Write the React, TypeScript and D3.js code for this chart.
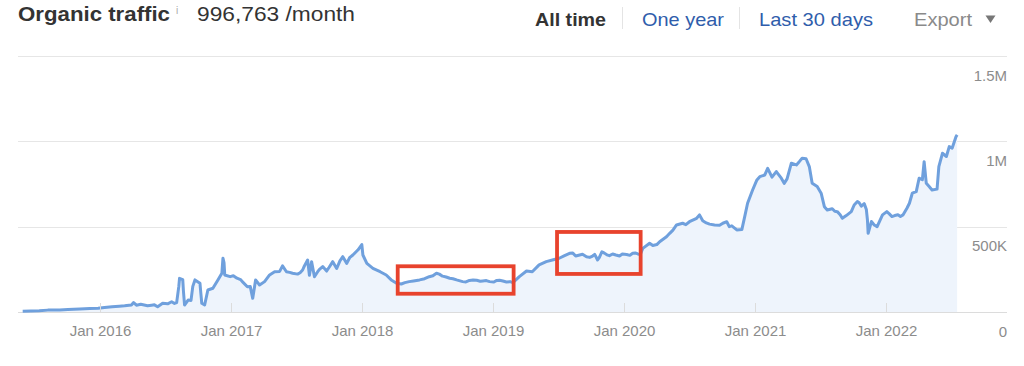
import React from "react";
import * as d3 from "d3";

// ---- Data ----
const dates: string[] = [
  "2015-06-01","2015-07-17","2015-09-12","2015-11-07","2015-12-28","2016-02-05","2016-03-11","2016-03-30",
  "2016-04-05","2016-04-13","2016-05-14","2016-06-02","2016-06-11","2016-06-25","2016-07-09","2016-07-20",
  "2016-07-28","2016-08-03","2016-08-09","2016-08-11","2016-08-20","2016-08-22","2016-08-25","2016-09-04",
  "2016-09-12","2016-09-17","2016-09-23","2016-10-07","2016-10-09","2016-10-12","2016-10-20","2016-10-29",
  "2016-11-12","2016-11-26","2016-12-07","2016-12-10","2016-12-13","2016-12-15","2016-12-30","2017-01-18",
  "2017-02-02","2017-02-16","2017-02-24","2017-03-03","2017-03-11","2017-03-22","2017-04-05","2017-04-19",
  "2017-05-03","2017-05-17","2017-05-25","2017-06-05","2017-06-22","2017-07-06","2017-07-20","2017-07-25",
  "2017-08-03","2017-08-08","2017-08-14","2017-08-22","2017-08-31","2017-09-14","2017-09-25","2017-10-12",
  "2017-10-23","2017-11-09","2017-11-20","2017-12-07","2017-12-21","2018-01-01","2018-01-04","2018-01-15",
  "2018-02-01","2018-02-21","2018-03-10","2018-03-24","2018-04-08","2018-04-21","2018-05-13","2018-06-11",
  "2018-07-08","2018-07-28","2018-08-14","2018-09-03","2018-09-22","2018-10-09","2018-10-28","2018-11-17",
  "2018-12-04","2018-12-23","2019-01-12","2019-01-29","2019-02-18","2019-02-26","2019-03-16","2019-04-05",
  "2019-04-21","2019-05-10","2019-05-30","2019-06-16","2019-07-05","2019-08-03","2019-08-31","2019-09-19",
  "2019-10-06","2019-10-20","2019-11-01","2019-11-15","2019-12-01","2019-12-20","2020-01-09","2020-01-26",
  "2020-02-09","2020-02-23","2020-03-13","2020-04-02","2020-04-10","2020-04-29","2020-05-08","2020-05-27",
  "2020-06-13","2020-07-02","2020-07-22","2020-07-30","2020-08-08","2020-08-27","2020-09-10","2020-09-24",
  "2020-10-14","2020-10-28","2020-11-11","2020-11-25","2020-12-03","2020-12-11","2020-12-25","2021-01-06",
  "2021-01-14","2021-01-28","2021-02-05","2021-02-17","2021-03-01","2021-03-15","2021-03-23","2021-03-31",
  "2021-04-12","2021-04-26","2021-05-04","2021-05-12","2021-05-23","2021-06-01","2021-06-09","2021-06-23",
  "2021-07-04","2021-07-13","2021-07-21","2021-08-04","2021-08-18","2021-09-01","2021-09-12","2021-09-26",
  "2021-10-04","2021-10-13","2021-10-24","2021-11-01","2021-11-07","2021-11-10","2021-11-12","2021-11-21",
  "2021-11-29","2021-12-07","2021-12-22","2022-01-03","2022-01-17","2022-02-03","2022-02-17","2022-02-28",
  "2022-03-07","2022-03-15","2022-03-26","2022-04-03","2022-04-12","2022-04-17","2022-04-23","2022-05-01",
  "2022-05-09","2022-05-23","2022-05-28","2022-06-07","2022-06-18","2022-06-26","2022-07-04","2022-07-15",
  "2022-07-18",
];

// organic traffic, thousands of visits per month
const traffic: number[] = [
  5, 8, 12, 17, 22, 31, 36, 41,
  55, 40, 37, 42, 31, 51, 48, 60,
  50, 55, 150, 197, 190, 120, 41, 70,
  68, 150, 188, 168, 120, 51, 41, 129,
  139, 188, 227, 315, 290, 217, 207, 198,
  178, 148, 150, 80, 188, 158, 178, 217,
  236, 238, 270, 236, 227, 222, 246, 270,
  305, 215, 295, 207, 236, 266, 240, 295,
  255, 324, 285, 334, 363, 395, 334, 285,
  256, 236, 217, 188, 168, 164, 178, 188,
  207, 227, 210, 198, 188, 178, 185, 186,
  182, 178, 185, 182, 178, 172, 207, 240,
  236, 276, 295, 305, 315, 344, 334, 324,
  328, 305, 353, 335, 340, 328, 337, 344,
  340, 373, 403, 395, 412, 441, 461, 510,
  520, 529, 549, 569, 535, 515, 510, 508,
  529, 505, 481, 483, 559, 637, 715, 774,
  793, 803, 842, 790, 823, 784, 754, 780,
  872, 862, 881, 901, 898, 852, 754, 735,
  696, 617, 598, 605, 588, 549, 565, 588,
  627, 647, 620, 635, 600, 539, 461, 530,
  510, 500, 569, 588, 559, 570, 569, 608,
  637, 696, 705, 784, 775, 881, 754, 735,
  715, 720, 852, 930, 911, 969, 960, 1028,
  1038,
];

// extra readings where the line is jagged (thousands)
const detailDates: string[] = [
  "2015-08-10","2015-10-05","2015-12-05","2016-01-15","2016-02-25","2016-04-25","2016-05-25",
  "2017-01-08","2017-01-28","2017-06-14","2017-07-13","2017-09-05","2017-10-02","2017-11-01","2017-11-28",
  "2018-05-01","2018-05-25","2018-06-25","2018-07-18","2018-08-05","2018-08-24","2018-09-12","2018-10-18",
  "2018-11-07","2018-11-27","2018-12-14","2019-01-04","2019-01-20","2019-02-08",
  "2019-07-20","2019-08-12","2019-08-20","2019-09-08","2019-09-28","2019-10-12","2019-10-25","2019-11-08",
  "2019-11-22","2019-12-10","2019-12-28","2020-01-18","2020-02-02","2020-02-16",
  "2020-03-22","2020-05-17","2020-06-22","2020-08-18","2020-10-03","2020-10-21",
  "2021-08-11","2021-08-26","2021-10-18","2022-01-10","2022-01-25","2022-02-10",
];
const detailTraffic: number[] = [
  11, 14, 20, 27, 34, 45, 40,
  212, 190, 232, 230, 250, 262, 300, 318,
  172, 182, 195, 212, 222, 205, 195, 176,
  188, 180, 184, 176, 186, 176,
  330, 345, 328, 338, 320, 338, 320, 345,
  330, 334, 340, 332, 346, 337,
  390, 480, 512, 522, 520, 500,
  590, 570, 640, 575, 565, 560,
];

const yTicks: number[] = [0, 500000, 1000000, 1500000];
const yTickLabels: string[] = ["0", "500K", "1M", "1.5M"];
const xTickYears: number[] = [2016, 2017, 2018, 2019, 2020, 2021, 2022];

// highlighted periods (red boxes): start, end, low value, high value
const boxStarts: string[] = ["2018-04-11", "2019-06-29"];
const boxEnds: string[] = ["2019-02-28", "2020-02-17"];
const boxLows: number[] = [107000, 223000];
const boxHighs: number[] = [268000, 469000];

const FONT = '"Liberation Sans", Arial, Helvetica, sans-serif';

export default function App() {
  const W = 1024;
  const H = 366;
  const parse = d3.timeParse("%Y-%m-%d");
  const points = dates
    .map((d, i) => ({ date: parse(d) as Date, value: traffic[i] * 1000 }))
    .concat(detailDates.map((d, i) => ({ date: parse(d) as Date, value: detailTraffic[i] * 1000 })))
    .sort((a, b) => a.date.getTime() - b.date.getTime());

  const x = d3
    .scaleTime()
    .domain([new Date(2016, 0, 1), new Date(2022, 0, 1)])
    .range([99.5, 886.1]);
  const y = d3.scaleLinear().domain([0, 1500000]).range([312, 56]);

  const line = d3
    .line<{ date: Date; value: number }>()
    .x((d) => x(d.date))
    .y((d) => y(d.value));
  const area = d3
    .area<{ date: Date; value: number }>()
    .x((d) => x(d.date))
    .y0(y(0))
    .y1((d) => y(d.value));

  const gridX0 = 18;
  const gridX1 = 1007;

  return (
    <svg
      width={W}
      height={H}
      style={{ position: "absolute", left: 0, top: 0, background: "#fff" }}
      fontFamily={FONT}
    >
      <rect x={0} y={0} width={W} height={H} fill="#fff" />
      {/* Header */}
      <text x={18} y={21} fontSize={19.5} fontWeight="bold" fill="#333" textLength={152} lengthAdjust="spacingAndGlyphs">
        Organic traffic
      </text>
      <text x={176} y={14} fontSize={10} fill="#aaa">i</text>
      <text x={197} y={21} fontSize={19.5} fill="#333" textLength={158} lengthAdjust="spacingAndGlyphs">
        996,763 /month
      </text>
      <text x={535} y={26} fontSize={19} fontWeight="bold" fill="#333" textLength={71} lengthAdjust="spacingAndGlyphs">
        All time
      </text>
      <line x1={622.5} x2={622.5} y1={7} y2={29} stroke="#e4e4e4" />
      <text x={642} y={26} fontSize={19} fill="#2f5dab" textLength={82} lengthAdjust="spacingAndGlyphs">
        One year
      </text>
      <line x1={739.5} x2={739.5} y1={7} y2={29} stroke="#e4e4e4" />
      <text x={759} y={26} fontSize={19} fill="#2f5dab" textLength={114} lengthAdjust="spacingAndGlyphs">
        Last 30 days
      </text>
      <text x={914} y={26} fontSize={19} fill="#8a8a8a" textLength={58} lengthAdjust="spacingAndGlyphs">
        Export
      </text>
      <path d="M985.5,15.5 L995.5,15.5 L990.5,23 Z" fill="#777" />

      {/* Grid lines */}
      {yTicks.map((t, i) => (
        <line
          key={"g" + i}
          x1={gridX0}
          x2={gridX1}
          y1={Math.round(y(t)) + 0.5}
          y2={Math.round(y(t)) + 0.5}
          stroke={t === 0 ? "#dcdcdc" : "#e6e6e6"}
        />
      ))}

      {/* Area + line */}
      <path d={area(points) || ""} fill="#eef4fc" />
      <path d={line(points) || ""} fill="none" stroke="#6fa0dd" strokeWidth={3} strokeLinejoin="round" />

      {/* X ticks */}
      {xTickYears.map((yr) => {
        const xx = Math.round(x(new Date(yr, 0, 1))) + 0.5;
        return (
          <g key={yr}>
            <line x1={xx} x2={xx} y1={303} y2={312} stroke="#dcdcdc" />
            <text x={xx} y={336} fontSize={15} fill="#8c8c8c" textAnchor="middle">
              {"Jan " + yr}
            </text>
          </g>
        );
      })}

      {/* Y labels */}
      {yTicks.map((t, i) => (
        <text key={"yl" + i} x={1007} y={y(t) + 24.5} fontSize={15} fill="#8c8c8c" textAnchor="end">
          {yTickLabels[i]}
        </text>
      ))}

      {/* Highlight boxes */}
      {boxStarts.map((s, i) => {
        const x0 = x(parse(s) as Date);
        const x1 = x(parse(boxEnds[i]) as Date);
        const y0 = y(boxHighs[i]);
        const y1 = y(boxLows[i]);
        return (
          <rect
            key={"b" + i}
            x={x0}
            y={y0}
            width={x1 - x0}
            height={y1 - y0}
            fill="none"
            stroke="#e8432d"
            strokeWidth={3.8}
          />
        );
      })}
    </svg>
  );
}
